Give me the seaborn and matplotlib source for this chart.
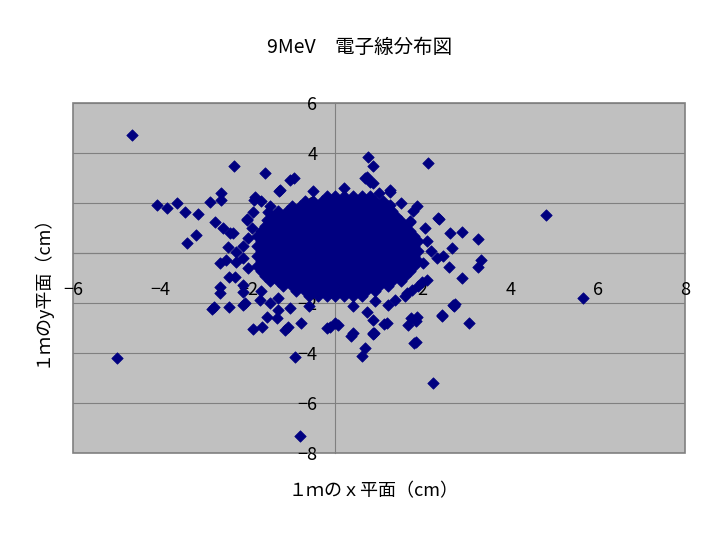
import matplotlib
matplotlib.use("Agg")
import matplotlib.pyplot as plt
import seaborn as sns
import pandas as pd

# dense core of the beam spot, one list of x per row (y value in core_y)
core_y = [-1.7, -1.5, -1.3, -1.1, -0.9, -0.7, -0.5, -0.3, -0.1, 0.1, 0.3,
          0.5, 0.7, 0.9, 1.1, 1.3, 1.5, 1.7, 1.9, 2.1, 2.3]
core_x = [
    [-0.6, -0.4, -0.2, 0.0, 0.2, 0.4, 0.6],
    [-0.9, -0.7, -0.5, -0.3, -0.1, 0.1, 0.3, 0.5, 0.7, 0.9],
    [-1.2, -1.0, -0.8, -0.6, -0.4, -0.2, 0.0, 0.2, 0.4, 0.6, 0.8, 1.0, 1.2],
    [-1.5, -1.3, -1.1, -0.9, -0.7, -0.5, -0.3, -0.1, 0.1, 0.3, 0.5, 0.7, 0.9, 1.1, 1.3, 1.5],
    [-1.6, -1.4, -1.2, -1.0, -0.8, -0.6, -0.4, -0.2, 0.0, 0.2, 0.4, 0.6, 0.8, 1.0, 1.2, 1.4, 1.6],
    [-1.7, -1.5, -1.3, -1.1, -0.9, -0.7, -0.5, -0.3, -0.1, 0.1, 0.3, 0.5, 0.7, 0.9, 1.1, 1.3, 1.5, 1.7],
    [-1.8, -1.6, -1.4, -1.2, -1.0, -0.8, -0.6, -0.4, -0.2, 0.0, 0.2, 0.4, 0.6, 0.8, 1.0, 1.2, 1.4, 1.6, 1.8],
    [-1.7, -1.5, -1.3, -1.1, -0.9, -0.7, -0.5, -0.3, -0.1, 0.1, 0.3, 0.5, 0.7, 0.9, 1.1, 1.3, 1.5, 1.7, 1.9],
    [-1.8, -1.6, -1.4, -1.2, -1.0, -0.8, -0.6, -0.4, -0.2, 0.0, 0.2, 0.4, 0.6, 0.8, 1.0, 1.2, 1.4, 1.6, 1.8],
    [-1.7, -1.5, -1.3, -1.1, -0.9, -0.7, -0.5, -0.3, -0.1, 0.1, 0.3, 0.5, 0.7, 0.9, 1.1, 1.3, 1.5, 1.7, 1.9],
    [-1.8, -1.6, -1.4, -1.2, -1.0, -0.8, -0.6, -0.4, -0.2, 0.0, 0.2, 0.4, 0.6, 0.8, 1.0, 1.2, 1.4, 1.6, 1.8],
    [-1.7, -1.5, -1.3, -1.1, -0.9, -0.7, -0.5, -0.3, -0.1, 0.1, 0.3, 0.5, 0.7, 0.9, 1.1, 1.3, 1.5, 1.7, 1.9],
    [-1.8, -1.6, -1.4, -1.2, -1.0, -0.8, -0.6, -0.4, -0.2, 0.0, 0.2, 0.4, 0.6, 0.8, 1.0, 1.2, 1.4, 1.6, 1.8],
    [-1.7, -1.5, -1.3, -1.1, -0.9, -0.7, -0.5, -0.3, -0.1, 0.1, 0.3, 0.5, 0.7, 0.9, 1.1, 1.3, 1.5, 1.7],
    [-1.6, -1.4, -1.2, -1.0, -0.8, -0.6, -0.4, -0.2, 0.0, 0.2, 0.4, 0.6, 0.8, 1.0, 1.2, 1.4, 1.6],
    [-1.5, -1.3, -1.1, -0.9, -0.7, -0.5, -0.3, -0.1, 0.1, 0.3, 0.5, 0.7, 0.9, 1.1, 1.3, 1.5, 1.7],
    [-1.4, -1.2, -1.0, -0.8, -0.6, -0.4, -0.2, 0.0, 0.2, 0.4, 0.6, 0.8, 1.0, 1.2, 1.4],
    [-1.3, -1.1, -0.9, -0.7, -0.5, -0.3, -0.1, 0.1, 0.3, 0.5, 0.7, 0.9, 1.1, 1.3],
    [-1.0, -0.8, -0.6, -0.4, -0.2, 0.0, 0.2, 0.4, 0.6, 0.8, 1.0, 1.2],
    [-0.7, -0.5, -0.3, -0.1, 0.1, 0.3, 0.5, 0.7, 0.9, 1.1],
    [-0.2, 0.0, 0.2, 0.4, 0.6, 0.8],
]

# scattered electrons around the core
halo_x = [-4.65, -5.00, -0.81, 5.66, 4.83, 2.24, 2.13, 0.74, 0.86, -2.31,
          -1.61, -1.04, -0.95, -1.28, -4.07, -3.84, -3.63, -3.44, -3.15, -2.87,
          -2.62, -2.62, -1.83, -1.71, -3.19, -3.39, -2.75, -2.56, -2.35, -2.03,
          -1.88, -1.53, -1.42, -2.45, -2.26, -2.10, -2.64, -2.26, 0.68, 0.79,
          1.25, 1.86, 1.78, 2.37, 2.91, 3.26, 2.62, 2.66, 2.47, 2.32,
          3.33, 3.27, 2.59, 1.71, 1.25, 2.89, 2.72, 2.74, 2.45, 3.07,
          1.73, 1.85, 1.67, 1.85, 1.81, 0.87, 1.11, 0.86, 0.89, 0.37,
          0.68, 0.62, 0.07, 1.21, 1.37, 0.73, 1.98, 2.09, 1.65, 1.75,
          -0.92, -2.83, -2.78, -2.43, -2.10, -2.07, -2.64, -2.64, -2.42, -2.30,
          -2.11, -2.11, -1.89, -1.68, -1.15, -1.08, -0.79, -1.57, -1.34, -1.72,
          -1.49, -1.30, -1.04, -0.20, -2.49, -2.41, -2.03, -1.87, -1.57, -1.27,
          -0.12, -0.01, 0.41, 0.87, 1.18, 1.86, 2.43, 2.70, 2.36, 1.25,
          0.72, 0.87, -2.00, -2.00, -2.10, 2.10, 2.00, 2.20, 1.90, 1.60,
          -1.70, -1.30, 0.90, -0.60, 0.40, -1.50, 1.50, 0.20, -0.50, 1.00,
          -1.90, 2.05]
halo_y = [4.72, -4.19, -7.33, -1.79, 1.54, -5.18, 3.62, 3.86, 3.48, 3.49,
          3.22, 2.92, 2.99, 2.50, 1.92, 1.81, 2.01, 1.63, 1.56, 2.03,
          2.39, 2.12, 2.25, 2.08, 0.72, 0.39, 1.25, 0.99, 0.81, 1.36,
          1.65, 1.65, 1.39, 0.25, 0.05, -0.21, -0.41, -0.35, 2.99, 2.83,
          2.45, 1.88, 1.68, 1.36, 0.83, 0.55, 0.81, 0.19, -0.12, -0.21,
          -0.28, -0.57, -0.55, 1.25, 1.92, -0.99, -2.12, -2.05, -2.52, -2.81,
          -2.61, -2.72, -2.89, -3.55, -3.61, -2.68, -2.85, -3.25, -3.19, -3.32,
          -3.79, -4.12, -2.88, -2.08, -1.88, -2.35, -1.15, -1.08, -1.59, -1.48,
          -4.17, -2.24, -2.17, -2.17, -2.08, -2.01, -1.35, -1.61, -0.95, -0.95,
          -1.28, -1.55, -3.05, -2.97, -3.08, -2.95, -2.81, -2.55, -2.61, -1.88,
          -2.01, -2.28, -2.21, -3.01, -0.28, 0.79, 1.32, 2.12, 1.32, 2.52,
          -2.95, -2.81, -3.21, -3.21, -2.81, -2.55, -2.48, -2.08, 1.39, 2.52,
          3.05, 2.79, 0.60, -0.60, 0.30, 0.50, -0.40, 0.10, -1.30, -1.70,
          -1.50, -1.80, -1.90, -2.10, -2.10, 1.90, 2.00, 2.60, 2.50, 2.40,
          1.00, 1.00]

xs, ys = [], []
for yv, row in zip(core_y, core_x):
    xs += row
    ys += [yv] * len(row)
xs += halo_x
ys += halo_y
df = pd.DataFrame({"x": xs, "y": ys})

sns.set_style("white")
plt.rcParams["font.family"] = ["Noto Sans CJK JP", "DejaVu Sans"]
plt.rcParams["text.color"] = "black"
plt.rcParams["xtick.labelcolor"] = "black"
plt.rcParams["ytick.labelcolor"] = "black"

fig = plt.figure(figsize=(7.2, 5.4), dpi=100)
ax = fig.add_axes([73 / 720, 1 - 453 / 540, 612 / 720, 350 / 540])
ax.set_facecolor("#C0C0C0")
ax.patch.set_edgecolor("#808080")
ax.patch.set_linewidth(1.2)

sns.scatterplot(data=df, x="x", y="y", marker="D", s=34, color="#000080",
                edgecolor="#000080", linewidth=0.5, ax=ax, zorder=2)

ax.set_xlim(-6, 8)
ax.set_ylim(-8, 6)
ax.set_xticks(range(-6, 9, 2))
ax.set_yticks(range(-8, 7, 2))
ax.set_axisbelow(True)
ax.grid(axis="y", color="#808080", linewidth=0.8)
ax.grid(axis="x", visible=False)

for side in ["top", "right"]:
    ax.spines[side].set_visible(False)
ax.spines["left"].set_position(("data", 0))
ax.spines["bottom"].set_position(("data", 0))
for side in ["left", "bottom"]:
    ax.spines[side].set_color("#808080")
    ax.spines[side].set_linewidth(0.8)
    ax.spines[side].set_zorder(0.5)

ax.tick_params(axis="x", direction="in", length=5, color="#808080",
               labelcolor="black", labelsize=13, pad=20)
ax.tick_params(axis="y", direction="in", length=5, color="#808080",
               labelcolor="black", labelsize=13, pad=13)
ax.set_xlabel("")
ax.set_ylabel("")

fig.text(0.5, 1 - 47 / 540, "9MeV\u3000電子線分布図", ha="center", va="center",
         fontsize=14, color="black")
fig.text(374 / 720, 1 - 491 / 540, "１ｍのｘ平面（cm）", ha="center", va="center",
         fontsize=13, color="black")
fig.text(41 / 720, 1 - 286 / 540, "１ｍのy平面（cm）", ha="center", va="center",
         rotation=90, fontsize=13, color="black")

fig.savefig("out.png", dpi=100)
